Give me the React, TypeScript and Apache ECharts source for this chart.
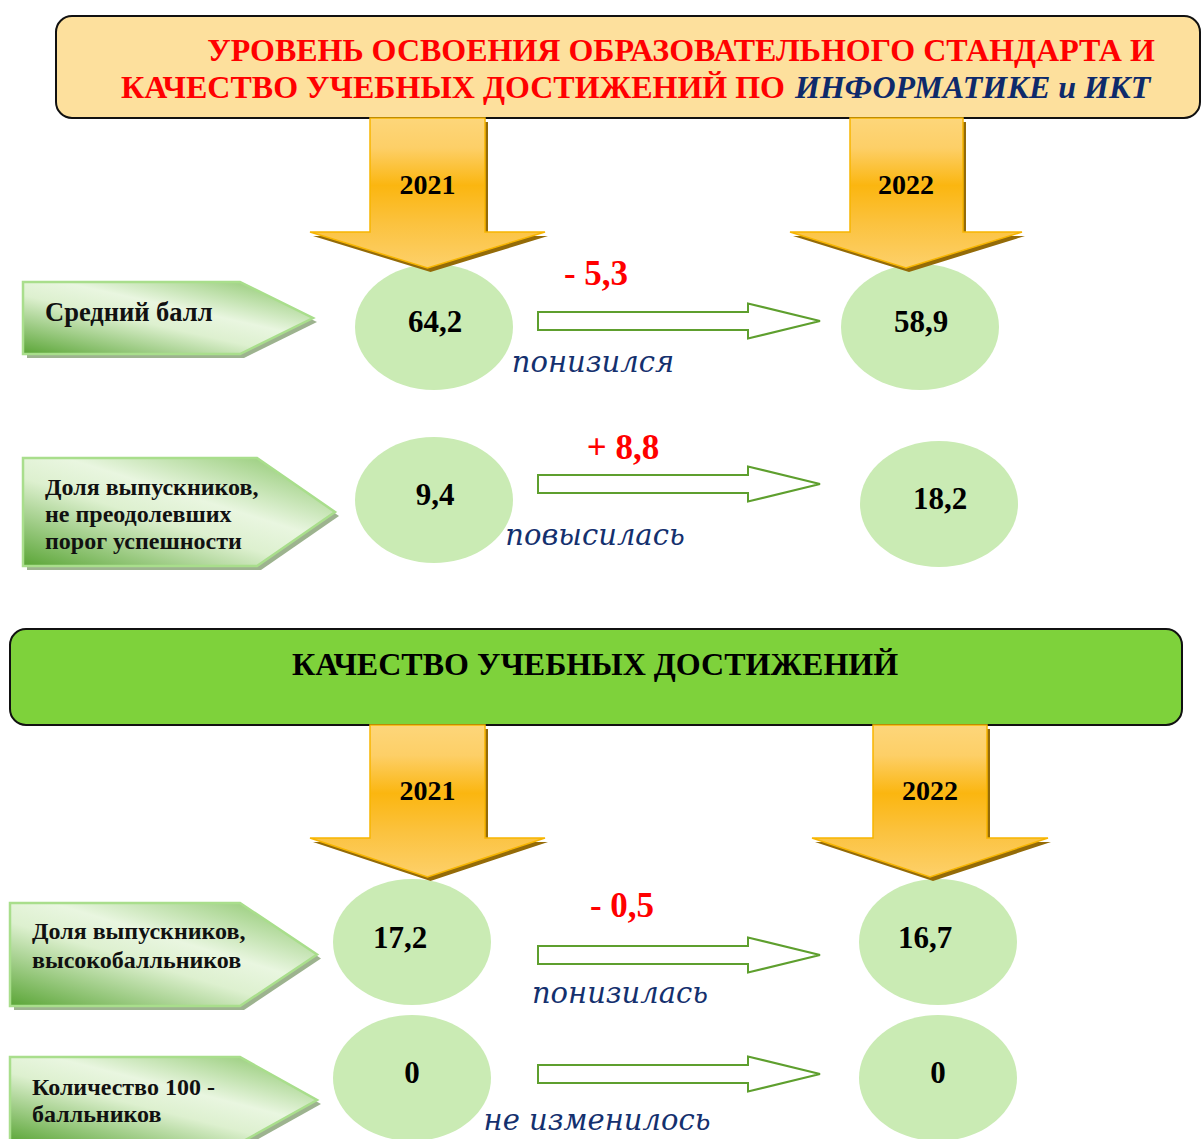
import React, { useEffect, useRef } from 'react';
import * as echarts from 'echarts';

// ---- data ----
const TITLE_LINE_1 = 'УРОВЕНЬ ОСВОЕНИЯ ОБРАЗОВАТЕЛЬНОГО СТАНДАРТА И';
const TITLE_LINE_2_RED = 'КАЧЕСТВО УЧЕБНЫХ ДОСТИЖЕНИЙ ПО';
const TITLE_LINE_2_BLUE = 'ИНФОРМАТИКЕ и ИКТ';
const SECTION_TITLE = 'КАЧЕСТВО УЧЕБНЫХ ДОСТИЖЕНИЙ';
const YEARS = ['2021', '2022'];
const METRICS = [
  'Средний балл',
  'Доля выпускников,\nне преодолевших\nпорог успешности',
  'Доля выпускников,\nвысокобалльников',
  'Количество 100 -\nбалльников',
];
const VALUES_2021 = [64.2, 9.4, 17.2, 0];
const VALUES_2022 = [58.9, 18.2, 16.7, 0];
const CHANGES = ['- 5,3', '+ 8,8', '- 0,5', ''];
const TRENDS = ['понизился', 'повысилась', 'понизилась', 'не изменилось'];

// ---- layout ----
const SERIF = '"Liberation Serif", "Times New Roman", serif';
const ITALIC_FONT = '"DejaVu Serif", serif';
const RX = 79;
const RY = 63;
const ROWS = [
  { box: [23, 282, 354, 240, 313], labelX: 45, labelY: 312, labelSize: 26.5, lh: 27, ell: [[434, 327], [920, 327]], valOff: [[1, -6], [1, -6]], change: [596, 273], arrowY: 321, trend: [593, 362] },
  { box: [23, 458, 566, 257, 335], labelX: 45, labelY: 514, labelSize: 24, lh: 27, ell: [[434, 500], [939, 504]], valOff: [[1, -6], [1, -6]], change: [623, 447], arrowY: 484, trend: [595, 535] },
  { box: [10, 903, 1006, 240, 317], labelX: 32, labelY: 945, labelSize: 24, lh: 29, ell: [[412, 942], [938, 942]], valOff: [[-12, -5], [-13, -5]], change: [622, 905], arrowY: 955, trend: [620, 993] },
  { box: [10, 1057, 1143, 240, 317], labelX: 32, labelY: 1100, labelSize: 24, lh: 27, ell: [[412, 1078], [938, 1078]], valOff: [[0, -6], [0, -6]], change: [622, 1040], arrowY: 1074, trend: [597, 1120] },
];
const BIG_ARROWS = [
  { sx: [370, 485], top: 118, hy: 232, hx: [310, 545], tip: 268, ty: 184, year: 0 },
  { sx: [850, 963], top: 118, hy: 232, hx: [790, 1022], tip: 268, ty: 184, year: 1 },
  { sx: [370, 485], top: 725, hy: 838, hx: [310, 545], tip: 877, ty: 790, year: 0 },
  { sx: [873, 987], top: 725, hy: 838, hx: [812, 1048], tip: 877, ty: 790, year: 1 },
];

const fmt = (v: number) => String(v).replace('.', ',');

function buildGraphics() {
  const els: any[] = [];

  // top banner
  els.push({
    type: 'rect',
    shape: { x: 56, y: 16, width: 1144, height: 102, r: 16 },
    style: { fill: '#FDE09D', stroke: '#111', lineWidth: 2 },
  });
  els.push({
    type: 'text',
    style: { text: TITLE_LINE_1, x: 681, y: 50, align: 'center', verticalAlign: 'middle', fill: '#FF0000', font: `bold 32px ${SERIF}` },
  });
  els.push({
    type: 'text',
    style: { text: TITLE_LINE_2_RED, x: 785, y: 87, align: 'right', verticalAlign: 'middle', fill: '#FF0000', font: `bold 32px ${SERIF}` },
  });
  els.push({
    type: 'text',
    style: { text: TITLE_LINE_2_BLUE, x: 795, y: 87, align: 'left', verticalAlign: 'middle', fill: '#0E2A6B', font: `italic bold 32px ${SERIF}` },
  });

  // green section banner
  els.push({
    type: 'rect',
    shape: { x: 10, y: 629, width: 1172, height: 96, r: 16 },
    style: { fill: '#7ED23B', stroke: '#111', lineWidth: 2 },
  });
  els.push({
    type: 'text',
    style: { text: SECTION_TITLE, x: 595, y: 664, align: 'center', verticalAlign: 'middle', fill: '#000', font: `bold 32px ${SERIF}` },
  });

  ROWS.forEach((r, i) => {
    const [x0, y0, y1, xc, xp] = r.box;
    const ym = (y0 + y1) / 2;
    const pts = [[x0, y0], [xc, y0], [xp, ym], [xc, y1], [x0, y1]];
    // label shadow
    els.push({
      type: 'polygon',
      shape: { points: pts.map(([x, y]) => [x + 4, y + 4]) },
      style: { fill: '#9DB38F' },
    });
    els.push({
      type: 'polygon',
      shape: { points: pts },
      style: {
        fill: new echarts.graphic.LinearGradient(0, 1, 0.9, 0, [
          { offset: 0, color: '#5AA536' },
          { offset: 0.45, color: '#DDF0CF' },
          { offset: 0.62, color: '#E9F6E0' },
          { offset: 1, color: '#8FC870' },
        ]),
        stroke: '#A9DE8C',
        lineWidth: 2.5,
      },
    });
    els.push({
      type: 'text',
      style: {
        text: METRICS[i], x: r.labelX, y: r.labelY, align: 'left', verticalAlign: 'middle',
        fill: '#111', font: `bold ${r.labelSize}px ${SERIF}`, lineHeight: r.lh,
      },
    });

    // ellipses with values
    const vals = [VALUES_2021[i], VALUES_2022[i]];
    r.ell.forEach(([cx, cy], k) => {
      els.push({
        type: 'ellipse',
        shape: { cx, cy, rx: RX, ry: RY },
        style: { fill: '#CAEBB4' },
      });
      els.push({
        type: 'text',
        style: {
          text: fmt(vals[k]), x: cx + r.valOff[k][0], y: cy + r.valOff[k][1], align: 'center', verticalAlign: 'middle',
          fill: '#000', font: `bold 31px ${SERIF}`,
        },
      });
    });

    // hollow arrow
    const ay = r.arrowY;
    els.push({
      type: 'polygon',
      shape: {
        points: [[538, ay - 9], [748, ay - 9], [748, ay - 17.5], [820, ay], [748, ay + 17.5], [748, ay + 9], [538, ay + 9]],
      },
      style: { fill: '#FFFFFF', stroke: '#5E9F2E', lineWidth: 2 },
    });

    if (CHANGES[i]) {
      els.push({
        type: 'text',
        style: { text: CHANGES[i], x: r.change[0], y: r.change[1], align: 'center', verticalAlign: 'middle', fill: '#FF0000', font: `bold 35px ${SERIF}` },
      });
    }
    els.push({
      type: 'text',
      style: { text: TRENDS[i], x: r.trend[0], y: r.trend[1], align: 'center', verticalAlign: 'middle', fill: '#14306E', font: `italic 29px ${ITALIC_FONT}` },
    });
  });

  // big orange arrows
  BIG_ARROWS.forEach((a) => {
    const cx = (a.hx[0] + a.hx[1]) / 2;
    const pts = [
      [a.sx[0], a.top], [a.sx[1], a.top], [a.sx[1], a.hy], [a.hx[1], a.hy],
      [cx, a.tip], [a.hx[0], a.hy], [a.sx[0], a.hy],
    ];
    els.push({
      type: 'polygon',
      shape: { points: pts.map(([x, y]) => [x + 3, y + 4]) },
      style: { fill: '#946B08' },
    });
    els.push({
      type: 'polygon',
      shape: { points: pts },
      style: {
        fill: new echarts.graphic.LinearGradient(0, 0, 0, 1, [
          { offset: 0, color: '#FDD67A' },
          { offset: 0.2, color: '#FDCF67' },
          { offset: 0.45, color: '#FBB610' },
          { offset: 0.7, color: '#FBC23E' },
          { offset: 1, color: '#FDD06A' },
        ]),
        stroke: '#F7B500',
        lineWidth: 1.5,
      },
    });
    els.push({
      type: 'text',
      style: { text: YEARS[a.year], x: cx, y: a.ty, align: 'center', verticalAlign: 'middle', fill: '#000', font: `bold 28px ${SERIF}` },
    });
  });

  return els;
}

export default function App() {
  const ref = useRef<HTMLDivElement>(null);
  useEffect(() => {
    if (!ref.current) return;
    const chart = echarts.init(ref.current, undefined, { renderer: 'svg' });
    chart.setOption({
      animation: false,
      backgroundColor: '#FFFFFF',
      graphic: { elements: buildGraphics() },
    });
    return () => chart.dispose();
  }, []);
  return (
    <div
      ref={ref}
      style={{ position: 'absolute', left: 0, top: 0, width: 1202, height: 1139 }}
    />
  );
}
